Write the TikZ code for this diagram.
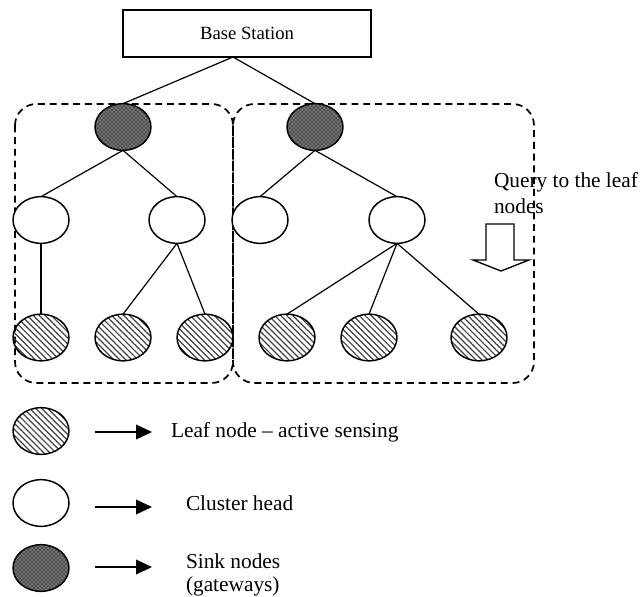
\documentclass[tikz,border=0pt]{standalone}
\usepackage{fontspec}
\setmainfont{Liberation Serif}
\usetikzlibrary{shapes.geometric,patterns,patterns.meta,arrows.meta}
\begin{document}
\begin{tikzpicture}[x=0.75pt,y=-0.75pt,
  every node/.style={inner sep=0pt, outer sep=0pt},
  nd/.style={ellipse, draw, line width=1.1pt, minimum width=42pt, minimum height=35pt},
  leaf/.style={nd, pattern={Lines[angle=-45, distance=3.2pt, line width=0.9pt]}, pattern color=black!75},
  head/.style={nd, fill=white},
  sink/.style={nd, preaction={fill=black!70}, pattern=crosshatch dots, pattern color=white},
  link/.style={line width=0.9pt},
  group/.style={draw, line width=1.3pt, dash pattern=on 5.2pt off 3.6pt, rounded corners=16pt},
  key/.style={line width=1pt, -{Triangle[length=12pt,width=11pt]}},
  lbl/.style={font=\fontsize{16}{17.25}\selectfont, anchor=base west, align=left}
]
\useasboundingbox (0,0) rectangle (642,596);

% cluster outlines
\draw[group] (15,104) rectangle (233,383);
\draw[group] (233,104) rectangle (534,383);

% base station
\node[draw, line width=1.2pt, minimum width=186pt, minimum height=35.25pt,
      font=\fontsize{14}{16}\selectfont] (bs) at (247,33.5) {Base Station};
\coordinate (apex) at (233,57);

% sinks, cluster heads, leaves
\node[sink] (s1) at (123,127) {};
\node[sink] (s2) at (315,127) {};
\node[head] (c1) at (41,220) {};
\node[head] (c2) at (177,220) {};
\node[head] (c3) at (260,220) {};
\node[head] (c4) at (397,220) {};
\node[leaf] (l1) at (41,337.5) {};
\node[leaf] (l2) at (123,337.5) {};
\node[leaf] (l3) at (205,337.5) {};
\node[leaf] (l4) at (287,337.5) {};
\node[leaf] (l5) at (369,337.5) {};
\node[leaf] (l6) at (479,337.5) {};

% tree links
\draw[link] (apex) -- (s1.north);
\draw[link] (apex) -- (s2.north);
\draw[link] (s1.south) -- (c1.north);
\draw[link] (s1.south) -- (c2.north);
\draw[link] (s2.south) -- (c3.north);
\draw[link] (s2.south) -- (c4.north);
\draw[link] (c1.south) -- (l1.north);
\draw[link] (c2.south) -- (l2.north);
\draw[link] (c2.south) -- (l3.north);
\draw[link] (c4.south) -- (l4.north);
\draw[link] (c4.south) -- (l5.north);
\draw[link] (c4.south) -- (l6.north);

% query note with hollow down arrow (base anchor sits on the last line)
\node[lbl] (q) at (494,213) {Query to the leaf\\[2pt]nodes};
\draw[line width=1pt, fill=white] (486,224) -- (514,224) -- (514,260) -- (529,260)
  -- (501,271) -- (473,260) -- (486,260) -- cycle;

% legend
\node[leaf] (kl) at (41,431) {};
\node[head] (kc) at (41,503) {};
\node[sink] (ks) at (41,568) {};
\coordinate (ka1) at (95,432);  \coordinate (kb1) at (152,432);
\coordinate (ka2) at (95,507);  \coordinate (kb2) at (152,507);
\coordinate (ka3) at (95,567);  \coordinate (kb3) at (152,567);
\draw[key] (ka1) -- (kb1);
\draw[key] (ka2) -- (kb2);
\draw[key] (ka3) -- (kb3);
\node[lbl] (tl) at (171,437) {Leaf node -- active sensing};
\node[lbl] (tc) at (186,510) {Cluster head};
\node[lbl] (ts) at (186,591) {Sink nodes\\(gateways)};
\end{tikzpicture}
\end{document}
